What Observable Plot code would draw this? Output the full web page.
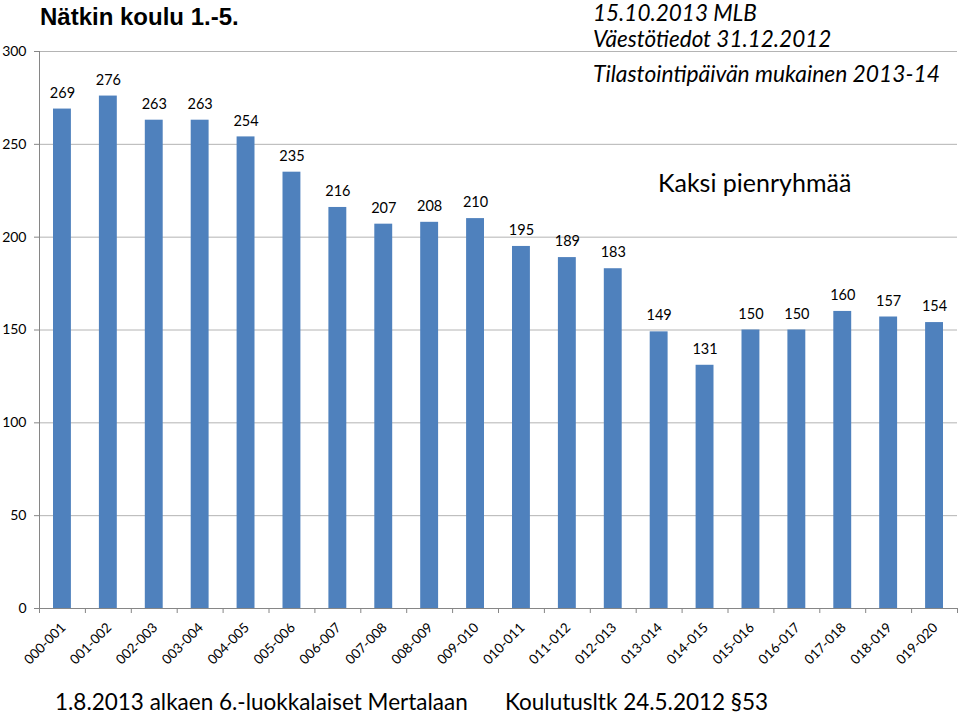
<!DOCTYPE html>
<html>
<head>
<meta charset="utf-8">
<script src="https://cdn.jsdelivr.net/npm/d3@7"></script>
<script src="https://cdn.jsdelivr.net/npm/@observablehq/plot@0.6"></script>
<style>
  html, body { margin: 0; padding: 0; background: #fff; }
  #wrap { position: relative; width: 960px; height: 718px; font-family: Lato, "Open Sans", sans-serif; color: #000; }
  #wrap svg { position: absolute; left: 0; top: 0; }
  .ov { position: absolute; white-space: nowrap; line-height: 1; }
</style>
</head>
<body>
<div id="wrap">
  <div class="ov" style="left:40px; top:5px; font-family:'Liberation Sans', Arial, sans-serif; font-weight:bold; font-size:24px;">Nätkin koulu 1.-5.</div>
  <div class="ov" style="left:593px; top:2px; font-style:italic; font-size:22.5px;">15.10.2013 MLB</div>
  <div class="ov" style="left:593px; top:28px; font-style:italic; font-size:22.5px;">Väestötiedot 31.12.2012</div>
  <div class="ov" style="left:593px; top:62px; font-style:italic; font-size:22.8px;">Tilastointipäivän mukainen 2013-14</div>
  <div class="ov" style="left:658px; top:170px; font-size:25px;">Kaksi pienryhmää</div>
  <div class="ov" style="left:55px; top:691px; font-size:22.5px;">1.8.2013 alkaen 6.-luokkalaiset Mertalaan</div>
  <div class="ov" style="left:505px; top:691px; font-size:22.5px;">Koulutusltk 24.5.2012 §53</div>
</div>
<script>
const categories = ["000-001","001-002","002-003","003-004","004-005","005-006","006-007","007-008","008-009","009-010",
                    "010-011","011-012","012-013","013-014","014-015","015-016","016-017","017-018","018-019","019-020"];
const values = [269,276,263,263,254,235,216,207,208,210,195,189,183,149,131,150,150,160,157,154];
const yTicks = [0,50,100,150,200,250,300];

const data = categories.map((c, i) => ({cat: c, i, value: values[i]}));
const n = categories.length;

const chart = Plot.plot({
  width: 960,
  height: 718,
  marginTop: 51,
  marginBottom: 110,
  marginLeft: 39,
  marginRight: 3,
  style: {fontFamily: "Lato, 'Open Sans', sans-serif", fontSize: "13px", color: "#000", background: "transparent"},
  x: {domain: [0, n], axis: null},
  y: {domain: [0, 300], axis: null},
  marks: [
    Plot.gridY(yTicks, {stroke: "#b4b4b4", strokeOpacity: 1}),
    Plot.rectY(data, {x1: "i", x2: d => d.i + 1, y: "value", insetLeft: 14, insetRight: 14, fill: "#4F81BD"}),
    Plot.text(data, {x: d => d.i + 0.5, y: "value", text: d => String(d.value), dy: -16, fontSize: 14.5, fill: "#000"}),
    Plot.ruleY([0], {stroke: "#868686"}),
    Plot.ruleX([0], {stroke: "#868686"}),
    Plot.axisY({ticks: yTicks, tickSize: 5, tickPadding: 8, stroke: "#868686", fontSize: 14, fill: "#000", label: null}),
    Plot.axisX({ticks: d3.range(n + 1), tickSize: 5, tickFormat: () => "", stroke: "#868686", label: null}),
    Plot.text(data, {x: d => d.i + 0.5, frameAnchor: "bottom", text: "cat", rotate: -45, textAnchor: "end", dx: 4, dy: 20, fontSize: 13.5, fill: "#000"})
  ]
});
document.getElementById("wrap").prepend(chart);
</script>
</body>
</html>
